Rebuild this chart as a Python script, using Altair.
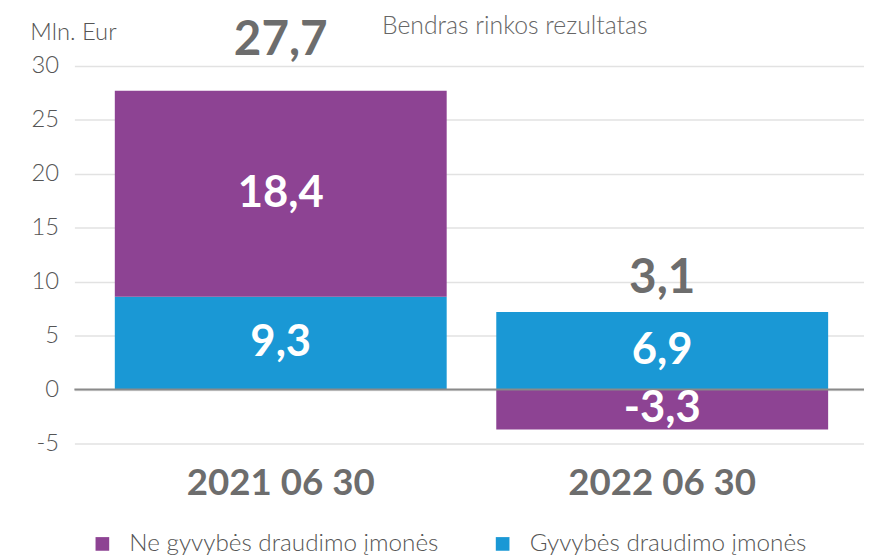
import altair as alt
import pandas as pd

dates = ["2021 06 30", "2022 06 30"]
series = ["Ne gyvybės draudimo įmonės", "Gyvybės draudimo įmonės"]
colors = ["#8d4393", "#1a98d5"]
# bar heights as drawn in the picture
life_values = [8.6, 7.2]        # Gyvybės draudimo įmonės (blue)
nonlife_values = [19.1, -3.7]   # Ne gyvybės draudimo įmonės (purple)
# printed labels
life_labels = ["9,3", "6,9"]
nonlife_labels = ["18,4", "-3,3"]
total_labels = ["27,7", "3,1"]
y_ticks = [-5, 0, 5, 10, 15, 20, 25, 30]

rows = []
for i, d in enumerate(dates):
    rows.append(dict(date=d, series=series[1], value=life_values[i], label=life_labels[i], ord=0))
    rows.append(dict(date=d, series=series[0], value=nonlife_values[i], label=nonlife_labels[i], ord=1))
df = pd.DataFrame(rows)

tops = [max(life_values[i], 0) + max(nonlife_values[i], 0) for i in range(len(dates))]
tot = pd.DataFrame(dict(date=dates, top=tops, label=total_labels))

FONT = "Lato"

xscale = alt.Scale(paddingInner=0.13, paddingOuter=0.1, align=0.53)
xaxis = alt.Axis(
    title="Bendras rinkos rezultatas",
    titleX=310, titleY=-414, titleAlign="left", titleBaseline="alphabetic",
    titleFont=FONT, titleFontSize=25, titleFontWeight=300, titleColor="#666666",
    labelFont=FONT, labelFontSize=37, labelFontWeight="bold", labelColor="#6d6d6d",
    labelAngle=0, labelPadding=22, labelLimit=0, ticks=False, domain=False, grid=False,
)
yscale = alt.Scale(domain=[-5, 30], nice=False)
yaxis = alt.Axis(
    values=y_ticks, title="Mln. Eur", labelExpr="'' + datum.value",
    titleX=-45, titleY=-27, titleAngle=0, titleAlign="left", titleBaseline="alphabetic",
    titleFont=FONT, titleFontSize=24, titleFontWeight=300, titleColor="#555555",
    labelFont=FONT, labelFontSize=24, labelFontWeight=300, labelColor="#555555",
    labelPadding=16, grid=True, gridColor="#e2e2e2", gridWidth=1.5,
    domain=False, ticks=False,
)

base = alt.Chart(df).transform_stack(
    stack="value", groupby=["date"], as_=["v0", "v1"],
    sort=[alt.SortField("ord", order="ascending")], offset="zero",
).transform_calculate(mid="(datum.v0 + datum.v1) / 2")

bars = base.mark_bar().encode(
    x=alt.X("date:N", sort=dates, scale=xscale, axis=xaxis),
    y=alt.Y("v0:Q", scale=yscale, axis=yaxis),
    y2="v1:Q",
    color=alt.Color(
        "series:N",
        scale=alt.Scale(domain=series, range=colors),
        legend=alt.Legend(
            orient="none", legendX=16, legendY=470, direction="horizontal", title=None,
            symbolType="square", symbolSize=190, symbolStrokeWidth=0, symbolOpacity=1,
            labelFont=FONT, labelFontSize=24.5, labelFontWeight=300, labelColor="#555555",
            labelOffset=15, columnPadding=52, padding=0, labelLimit=600,
        ),
    ),
)

zero = alt.Chart(pd.DataFrame({"z": [0]})).mark_rule(color="#8a8a8a", strokeWidth=2).encode(
    y=alt.Y("z:Q", scale=yscale, axis=yaxis)
)

seg_text = base.mark_text(
    font=FONT, fontSize=44, fontWeight="bold", color="white", baseline="middle", align="center"
).encode(
    x=alt.X("date:N", sort=dates, scale=xscale, axis=xaxis),
    y=alt.Y("mid:Q", scale=yscale, axis=yaxis),
    text="label:N",
)

def total_layer(d, dy):
    return alt.Chart(tot).transform_filter(alt.datum.date == d).mark_text(
        font=FONT, fontSize=48, fontWeight="bold", color="#6d6d6d",
        baseline="alphabetic", align="center", dy=dy,
    ).encode(
        x=alt.X("date:N", sort=dates, scale=xscale, axis=xaxis),
        y=alt.Y("top:Q", scale=yscale, axis=yaxis),
        text="label:N",
    )

chart = alt.layer(
    bars, zero, seg_text, total_layer(dates[0], -36), total_layer(dates[1], -19)
).properties(
    width=797, height=381,
    padding={"left": 67, "top": 56, "right": 0, "bottom": 112},
    autosize="none",
).configure_view(stroke=None)

chart.save("out.html", embed_options={"renderer": "svg", "actions": False})
